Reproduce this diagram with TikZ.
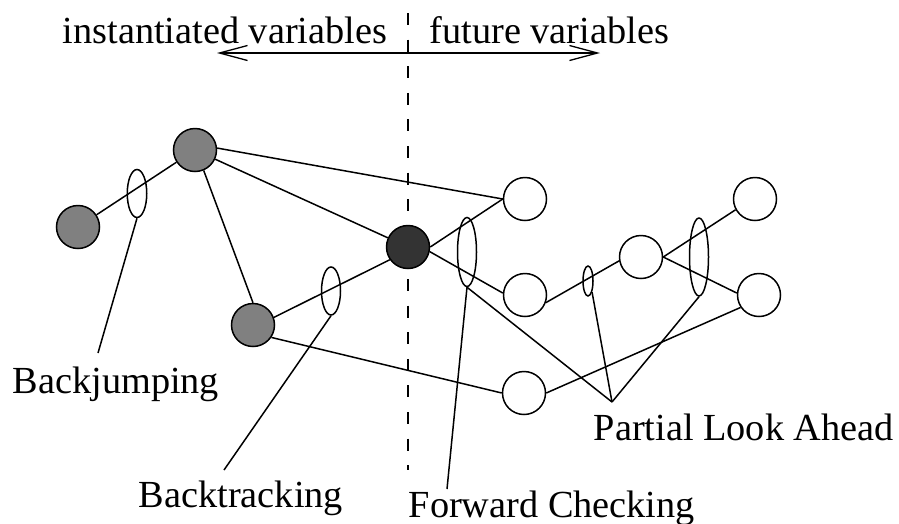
\documentclass[tikz,border=0pt]{standalone}
\usepackage{fontspec}
\setmainfont{Liberation Serif}
\usetikzlibrary{shapes.geometric,arrows.meta}
\begin{document}
\begin{tikzpicture}[x=1pt,y=-1pt,line width=1.5pt,
  var/.style={circle,draw,minimum size=43pt,inner sep=0pt},
  done/.style={var,fill=black!50},
  cur/.style={var,fill=black!80},
  futurevar/.style={var,fill=none},
  ring/.style={ellipse,draw,inner sep=0pt},
  lbl/.style={anchor=base west,inner sep=0pt,font=\fontsize{38.3}{46}\selectfont},
  barb/.style={{Straight Barb[length=28pt,width=15pt]}-{Straight Barb[length=28pt,width=15pt]}}]
\useasboundingbox (0,0) rectangle (899,523);
% separator
\draw[line width=1.3pt,dash pattern=on 12pt off 14.6pt] (408,13) -- (408,470);
% header
\node[lbl] (inst) at (62,43) {instantiated variables};
\node[lbl] (fut) at (429,43) {future variables};
\coordinate (al) at (217,53);
\coordinate (ar) at (600,53);
\draw[barb,line width=1.3pt] (al) -- (ar);
% variables
\node[done] (A) at (78,227) {};
\node[done] (B) at (195,150) {};
\node[done] (C) at (253,325) {};
\node[cur] (D) at (408,247) {};
\node[futurevar] (E) at (525,199) {};
\node[futurevar] (F) at (525,295) {};
\node[futurevar] (G) at (641,257) {};
\node[futurevar] (H) at (755,199) {};
\node[futurevar] (I) at (759,295) {};
\node[futurevar] (J) at (524,393) {};
% constraints
\draw (A) -- (B);
\draw (B.5) -- (E.west);
\draw (B) -- (D);
\draw (B.-67) -- (C.north);
\draw (C.20) -- (D.215);
\draw (C.-34) -- (J.west);
\draw (D.east) -- (E.west);
\draw (D.-12) -- (F.175);
\draw (F.-20) -- (G.190);
\draw (G.east) -- (H.209);
\draw (G.east) -- (I.175);
\draw (J.east) -- (I.214);
% checks
\node[ring,minimum width=19.5pt,minimum height=48pt] (e1) at (137,193.5) {};
\node[ring,minimum width=19pt,minimum height=48pt] (e2) at (331,291) {};
\node[ring,minimum width=19pt,minimum height=69pt] (e3) at (467,252) {};
\node[ring,minimum width=10pt,minimum height=30pt] (e4) at (588,281) {};
\node[ring,minimum width=19pt,minimum height=78pt] (e5) at (699,257) {};
% labels
\node[lbl] (bj) at (12,393) {Backjumping};
\node[lbl] (bt) at (138,507) {Backtracking};
\node[lbl] (fc) at (408,517) {Forward Checking};
\node[lbl] (pla) at (593,440) {Partial Look Ahead};
\coordinate (bjp) at (98,353);
\coordinate (btp) at (224,470);
\coordinate (fcp) at (447,489);
\coordinate (plap) at (612,402);
\draw (e1.south) -- (bjp);
\draw (e2.south) -- (btp);
\draw (e3.south) -- (fcp);
\draw (e3.south) -- (plap);
\draw (e4.-70) -- (plap);
\draw (e5.south) -- (plap);
\end{tikzpicture}
\end{document}
